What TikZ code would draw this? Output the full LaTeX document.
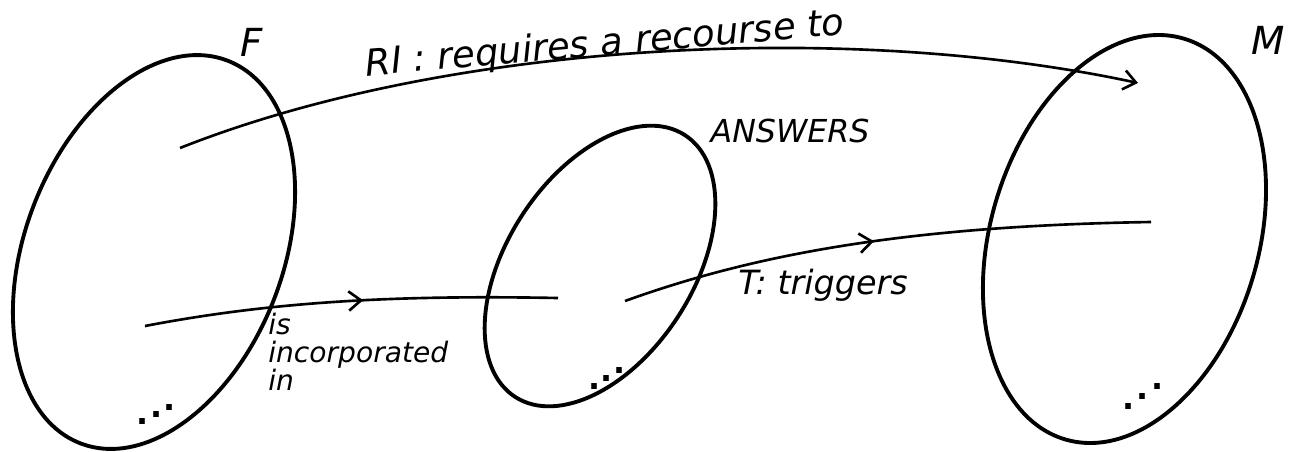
\documentclass[tikz,border=0pt]{standalone}
\usepackage{fontspec}
\setsansfont{DejaVu Sans}
\usetikzlibrary{arrows.meta,decorations.markings}
\tikzset{
  set/.style={line width=2.2pt},
  hand/.style={font=\sffamily\itshape\fontsize{18}{21}\selectfont, inner sep=1pt},
  dotmark/.style={font=\sffamily\bfseries\fontsize{18}{18}\selectfont, inner sep=0pt},
  rel/.style={line width=1.5pt},
  midarrow/.style={postaction={decorate}, decoration={markings,
      mark=at position #1 with {\arrow{Straight Barb[length=7pt,width=11pt,line width=1.5pt]}}}}
}
\begin{document}
\begin{tikzpicture}
    \useasboundingbox (0,0) rectangle (25.86,9.02);
    % the three sets
    \coordinate (fc) at (3.08,3.98);
    \coordinate (ac) at (12.0,3.7);
    \coordinate (mc) at (22.49,4.24);
    \draw[set, rotate around={-21:(fc)}] (fc) ellipse [x radius=2.58, y radius=4.1];
    \draw[set, rotate around={-33:(ac)}] (ac) ellipse [x radius=1.86, y radius=3.12];
    \draw[set, rotate around={-16.5:(mc)}] (mc) ellipse [x radius=2.68, y radius=4.18];
    \node[hand, font=\sffamily\itshape\fontsize{22}{24}\selectfont] (flabel) at (5.04,8.18) {F};
    \node[hand] (alabel) at (15.8,6.4) {ANSWERS};
    \node[hand, font=\sffamily\itshape\fontsize{22}{24}\selectfont] (mlabel) at (25.36,8.22) {M};
    % elements
    \coordinate (f1) at (3.6,6.06);
    \coordinate (f2) at (2.9,2.5);
    \coordinate (a1) at (11.16,3.06);
    \coordinate (a2) at (12.5,3.0);
    \coordinate (m1) at (22.76,7.36);
    \coordinate (m2) at (23.02,4.58);
    % the "..." in each set
    \foreach \x/\y [count=\i] in {2.86/0.58, 3.14/0.72, 3.4/0.86}
      \node[dotmark] (fdot\i) at (\x,\y) {.};
    \foreach \x/\y [count=\i] in {11.9/1.28, 12.14/1.44, 12.4/1.6}
      \node[dotmark] (adot\i) at (\x,\y) {.};
    \foreach \x/\y [count=\i] in {22.56/0.88, 22.84/1.08, 23.14/1.28}
      \node[dotmark] (mdot\i) at (\x,\y) {.};
    % relations
    \draw[rel, -{Straight Barb[length=7pt,width=11pt]}] (f1) .. controls (9,8.2) and (17,8.6) .. (m1);
    \draw[rel, midarrow=0.53] (f2) .. controls (5.5,3.0) and (8,3.12) .. (a1);
    \draw[rel, midarrow=0.48] (a2) .. controls (15,3.9) and (18,4.5) .. (m2);
    \node[hand, rotate=5, font=\sffamily\itshape\fontsize{21}{24}\selectfont] (rlabel) at (12.1,8.12) {RI : requires a recourse to};
    \node[hand, align=left, anchor=north west, inner sep=0pt,
      font=\sffamily\itshape\fontsize{16}{16}\selectfont] (ilabel) at (5.36,2.76) {is\\incorporated\\in};
    \node[hand, font=\sffamily\itshape\fontsize{19}{21}\selectfont] (tlabel) at (16.46,3.32) {T: triggers};
\end{tikzpicture}
\end{document}
